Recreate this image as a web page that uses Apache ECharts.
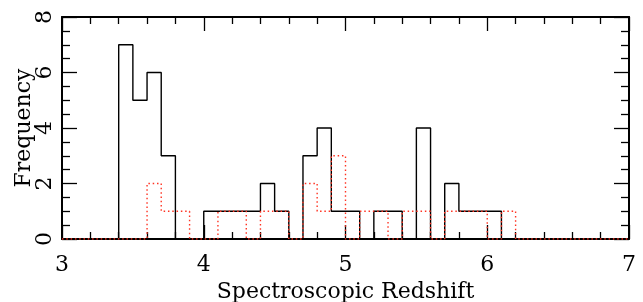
<!DOCTYPE html>
<html>
<head>
<meta charset="utf-8">
<script src="https://cdn.jsdelivr.net/npm/echarts@6/dist/echarts.min.js"></script>
<style>
html,body{margin:0;padding:0;background:#fff;}
#chart{width:643px;height:302px;}
</style>
</head>
<body>
<div id="chart"></div>
<script>
// Bin left edges (bin width 0.1)
const binLeft = [3.4,3.5,3.6,3.7,3.8,3.9,4.0,4.1,4.2,4.3,4.4,4.5,4.6,4.7,4.8,4.9,5.0,5.1,5.2,5.3,5.4,5.5,5.6,5.7,5.8,5.9,6.0,6.1,6.2];
const binWidth = 0.1;
// Black solid histogram counts
const countsAll = [7,5,6,3,0,0,1,1,1,1,2,1,0,3,4,1,1,0,1,1,0,4,0,2,1,1,1,0,0];
// Red dotted histogram counts
const countsSub = [0,0,2,1,1,0,0,1,1,0,1,1,0,2,1,3,0,1,1,0,1,1,0,1,1,1,0,1,0];
const xRange = [3, 7];
const yRange = [0, 8];
const xTicks = [3,4,5,6,7];
const yTicks = [0,2,4,6,8];

function histPath(counts){
  const pts = [[xRange[0], 0], [binLeft[0], 0]];
  for (let i = 0; i < binLeft.length; i++){
    pts.push([binLeft[i], counts[i]]);
    pts.push([+(binLeft[i] + binWidth).toFixed(2), counts[i]]);
  }
  pts.push([+(binLeft[binLeft.length-1] + binWidth).toFixed(2), 0]);
  pts.push([xRange[1], 0]);
  return pts;
}

const font = 'DejaVu Serif';
const chart = echarts.init(document.getElementById('chart'), null, {renderer:'canvas'});
const axLine = {show:true, onZero:false, lineStyle:{color:'#000', width:2}};
const xTick = {show:true, inside:true, length:14, lineStyle:{color:'#000', width:1.3}};
const xMinor = {show:true, splitNumber:5, length:7, lineStyle:{color:'#000', width:1.3}};
const yTick = {show:true, inside:true, length:15, lineStyle:{color:'#000', width:1.3}};
const yMinor = {show:true, splitNumber:4, length:8, lineStyle:{color:'#000', width:1.3}};

chart.setOption({
  animation:false,
  backgroundColor:'#fff',
  grid:{left:62, right:14, top:17, bottom:63, containLabel:false, outerBoundsMode:'none'},
  xAxis:[{
    type:'value', min:xRange[0], max:xRange[1], interval:1, position:'bottom',
    axisLine:axLine, axisTick:xTick, minorTick:xMinor, splitLine:{show:false},
    axisLabel:{color:'#000', fontFamily:font, fontSize:22, margin:15,
      formatter:v => xTicks.includes(v) ? String(v) : ''},
    name:'Spectroscopic Redshift', nameLocation:'middle', nameGap:42, nameMoveOverlap:false,
    nameTextStyle:{color:'#000', fontFamily:font, fontSize:22}
  },{
    type:'value', min:xRange[0], max:xRange[1], interval:1, position:'top',
    axisLine:axLine, axisTick:xTick, minorTick:xMinor, splitLine:{show:false},
    axisLabel:{show:false}
  }],
  yAxis:[{
    type:'value', min:yRange[0], max:yRange[1], interval:2, position:'left',
    axisLine:axLine, axisTick:yTick, minorTick:yMinor, splitLine:{show:false},
    axisLabel:{color:'#000', fontFamily:font, fontSize:22, rotate:90, margin:6,
      formatter:v => yTicks.includes(v) ? String(v) : ''},
    name:'Frequency', nameLocation:'middle', nameGap:27, nameRotate:90, nameMoveOverlap:false,
    nameTextStyle:{color:'#000', fontFamily:font, fontSize:22}
  },{
    type:'value', min:yRange[0], max:yRange[1], interval:2, position:'right',
    axisLine:axLine, axisTick:yTick, minorTick:yMinor, splitLine:{show:false},
    axisLabel:{show:false}
  }],
  series:[{
    type:'line', data:histPath(countsAll), showSymbol:false, symbol:'none',
    lineStyle:{color:'#000', width:1.4}, z:3
  },{
    type:'line', data:histPath(countsSub), showSymbol:false, symbol:'none',
    lineStyle:{color:'#ff3322', width:1.4, type:[1.5,2.8]}, z:4
  }]
});
</script>
</body>
</html>
